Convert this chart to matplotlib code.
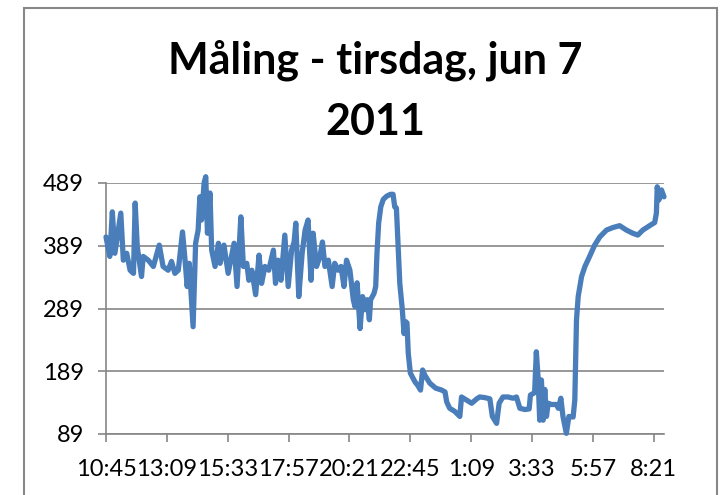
import matplotlib
matplotlib.use("Agg")
import matplotlib.pyplot as plt
from matplotlib.patches import Rectangle

# minutes after 10:45 and measured value
minutes = [0, 9, 15, 21, 35, 41, 49, 57, 65, 69, 74, 84, 88, 100, 112, 126, 135, 147, 155, 163,
           171, 181, 187, 192, 197, 206, 212, 218, 222, 226, 232, 236, 240, 246, 250, 258, 266, 270, 279,
           289, 297, 303, 310, 319, 325, 333, 338, 345, 354, 362, 368, 376, 385, 396, 401, 407, 414,
           423, 431, 439, 445, 449, 456, 464, 471, 478, 485, 490, 498, 506, 512, 518, 526, 535, 541,
           549, 556, 563, 569, 577, 585, 589,
           594, 601, 607, 612, 618, 623, 626, 634, 638, 641, 645, 650, 656, 664, 673, 679, 683, 687,
           691, 695, 701, 705, 709, 712, 715, 720, 731, 738, 744, 749, 754, 766, 780, 794, 802, 806,
           813, 825, 837, 841, 853, 865, 877,
           884, 896, 908, 914, 924, 930, 939, 951, 963, 971, 979, 991, 1001, 1004, 1014, 1018, 1022,
           1026, 1030, 1034, 1038, 1042, 1046, 1054, 1066, 1070, 1076, 1081, 1089, 1095, 1105, 1109,
           1113, 1117, 1125, 1133, 1144, 1156, 1168,
           1184, 1199, 1215, 1231, 1246, 1258, 1270, 1286, 1298, 1302, 1304, 1308, 1314, 1320]
values = [403, 372, 443, 377, 441, 366, 377, 350, 345, 457, 387, 340, 372, 366, 356, 390, 356, 350, 364, 345,
          350, 411, 366, 324, 361, 260, 393, 414, 467, 430, 489, 499, 409, 473, 382, 356, 393, 361, 390,
          345, 372, 393, 324, 435, 356, 361, 334, 350, 311, 374, 329, 356, 350, 382, 329, 366, 334,
          406, 324, 382, 395, 425, 308, 377, 414, 430, 334, 409, 356, 372, 395, 356, 366, 324, 361,
          350, 356, 324, 366, 350, 303, 292,
          330, 257, 308, 287, 303, 271, 303, 313, 324, 377, 425, 451, 463, 468, 471, 471, 451, 449,
          387, 329, 287, 249, 268, 266, 218, 186, 172, 166, 159, 191, 183, 170, 162, 159, 156, 140,
          130, 125, 117, 148, 143, 138, 145,
          148, 147, 145, 117, 106, 138, 148, 148, 146, 148, 130, 128, 129, 151, 155, 220, 180,
          111, 175, 111, 160, 117, 138, 136, 136, 130, 146, 117, 90, 117, 116, 143,
          271, 308, 340, 356, 372, 390, 403,
          414, 418, 421, 414, 409, 406, 414, 421, 426, 441, 483, 462, 478, 467]

tick_minutes = [0, 144, 288, 432, 576, 720, 864, 1008, 1152, 1296]
tick_labels = ["10:45", "13:09", "15:33", "17:57", "20:21", "22:45", "1:09", "3:33", "5:57", "8:21"]
y_ticks = [89, 189, 289, 389, 489]

title = "Måling - tirsdag, jun 7\n2011"

plt.rcParams['font.family'] = ['Lato', 'DejaVu Sans']

fig = plt.figure(figsize=(7.2, 4.95), dpi=100)
ax = fig.add_axes([106 / 720, 61 / 495, 558 / 720, 251 / 495])

ax.plot(minutes, values, color='#4a7ebb', lw=3.8, solid_joinstyle='round',
        solid_capstyle='round', clip_on=False, zorder=3)

ax.set_xlim(0, 1320)
ax.set_ylim(89, 489)
ax.set_yticks(y_ticks)
ax.set_xticks(tick_minutes)
ax.set_xticklabels(tick_labels)

ax.grid(axis='y', color='#868686', lw=1.2)
ax.set_axisbelow(True)
for s in ['top', 'right']:
    ax.spines[s].set_visible(False)
for s in ['left', 'bottom']:
    ax.spines[s].set_color('#868686')
    ax.spines[s].set_linewidth(1.2)
ax.tick_params(direction='out', length=5.8, width=1.2, color='#868686', labelsize=17,
               labelcolor='black')
ax.tick_params(axis='y', pad=10)
ax.tick_params(axis='x', pad=12)

fig.text(375 / 720, 1 - 91 / 495, title, ha='center', va='center', fontsize=31,
         fontweight='bold', linespacing=1.65)

# chart area border
fig.patches.append(Rectangle((24 / 720, -0.05), (717 - 24) / 720, (495 - 8) / 495 + 0.05,
                             transform=fig.transFigure, fill=False, edgecolor='#878787',
                             lw=1.5, figure=fig))

fig.savefig("out.png", dpi=100)
